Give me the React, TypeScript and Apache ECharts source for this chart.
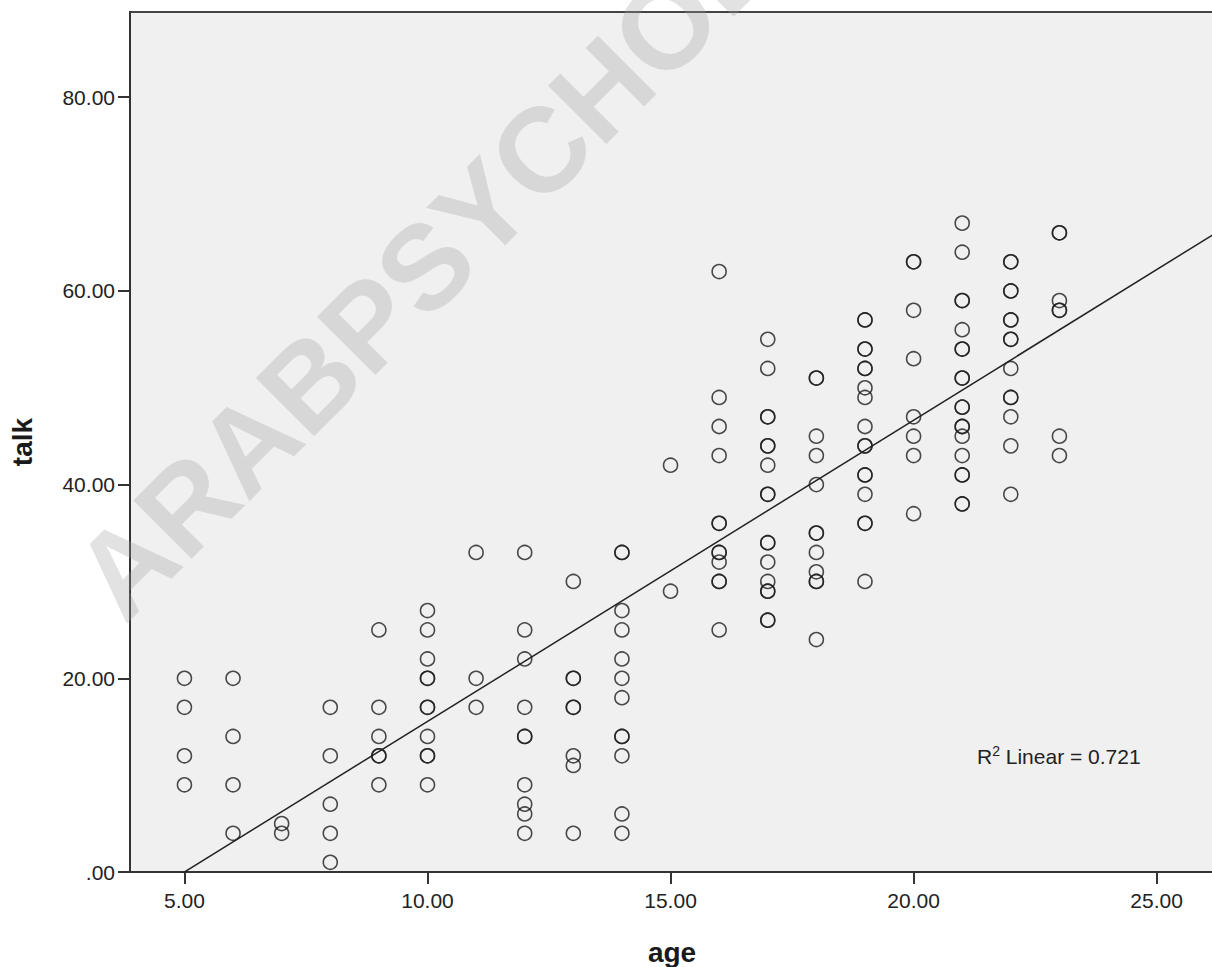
import React, { useEffect, useRef } from "react";
import * as echarts from "echarts";

// ---- data ----
const AGES = [5, 6, 7, 8, 9, 10, 11, 12, 13, 14, 15, 16, 17, 18, 19, 20, 21, 22, 23];
const TALK_BY_AGE: number[][] = [
  [20, 17, 12, 9],
  [20, 14, 9, 4],
  [5, 4],
  [17, 12, 7, 4, 1],
  [25, 17, 14, 12, 12, 9],
  [27, 25, 22, 20, 20, 17, 17, 14, 12, 12, 9],
  [33, 20, 17],
  [33, 25, 22, 17, 14, 14, 9, 7, 6, 4],
  [30, 20, 20, 17, 17, 12, 11, 4],
  [33, 33, 27, 25, 22, 20, 18, 14, 14, 12, 6, 4],
  [42, 29],
  [62, 49, 46, 43, 36, 36, 33, 33, 32, 30, 30, 25],
  [55, 52, 47, 47, 44, 44, 42, 39, 39, 34, 34, 32, 30, 29, 29, 26, 26],
  [51, 51, 45, 43, 40, 35, 35, 33, 31, 30, 30, 24],
  [57, 57, 54, 54, 52, 52, 50, 49, 46, 44, 44, 41, 41, 39, 36, 36, 30],
  [63, 63, 58, 53, 47, 45, 43, 37],
  [67, 64, 59, 59, 56, 54, 54, 51, 51, 48, 48, 46, 46, 45, 43, 41, 41, 38, 38],
  [63, 63, 60, 60, 57, 57, 55, 55, 52, 49, 49, 47, 44, 39],
  [66, 66, 59, 58, 58, 45, 43],
];
const X_TICKS = [5, 10, 15, 20, 25];
const Y_TICKS = [0, 20, 40, 60, 80];
const X_MIN = 3.88;
const X_MAX = 26.18;
const Y_MIN = 0;
const Y_MAX = 88.8;
const X_NAME = "age";
const Y_NAME = "talk";
// linear fit as drawn in the reference (talk = intercept + slope * age)
const FIT_INTERCEPT = -15.55;
const FIT_SLOPE = 3.11;
const R2_VALUE = "0.721";
const WATERMARK = "ARABPSYCHOLOGY";

const FONT = '"Liberation Sans", Arial, Helvetica, sans-serif';

function buildPoints(): number[][] {
  const pts: number[][] = [];
  AGES.forEach((a, i) => TALK_BY_AGE[i].forEach((t) => pts.push([a, t])));
  return pts;
}

export default function App() {
  const ref = useRef<HTMLDivElement>(null);
  useEffect(() => {
    if (!ref.current) return;
    const chart = echarts.init(ref.current, null, { renderer: "svg" });
    const pts = buildPoints();
    const fitData = [
      [X_MIN, FIT_INTERCEPT + FIT_SLOPE * X_MIN],
      [X_MAX, FIT_INTERCEPT + FIT_SLOPE * X_MAX],
    ];
    const fmt = (v: number) => (v === 0 ? ".00" : v.toFixed(2));
    chart.setOption({
      animation: false,
      backgroundColor: "#ffffff",
      grid: {
        left: 130,
        right: -2,
        top: 12,
        bottom: 95,
        containLabel: false,
        outerBoundsMode: "none",
        show: true,
        backgroundColor: "#f0f0f0",
        borderColor: "#444",
        borderWidth: 2,
      },
      xAxis: {
        type: "value",
        min: X_MIN,
        max: X_MAX,
        name: X_NAME,
        nameLocation: "middle",
        nameGap: 66,
        nameTextStyle: { fontFamily: FONT, fontSize: 28, fontWeight: "bold", color: "#1a1a1a" },
        axisLine: { show: true, onZero: false, lineStyle: { color: "#333", width: 2 } },
        axisTick: { show: true, inside: false, length: 12, customValues: X_TICKS, lineStyle: { color: "#333", width: 2 } },
        axisLabel: { customValues: X_TICKS, formatter: fmt, margin: 18, fontFamily: FONT, fontSize: 21, color: "#222" },
        splitLine: { show: false },
      },
      yAxis: {
        type: "value",
        min: Y_MIN,
        max: Y_MAX,
        name: Y_NAME,
        nameLocation: "middle",
        nameGap: 94,
        nameTextStyle: { fontFamily: FONT, fontSize: 28, fontWeight: "bold", color: "#1a1a1a" },
        axisLine: { show: true, onZero: false, lineStyle: { color: "#333", width: 2 } },
        axisTick: { show: true, inside: false, length: 12, customValues: Y_TICKS, lineStyle: { color: "#333", width: 2 } },
        axisLabel: { customValues: Y_TICKS, formatter: fmt, margin: 15, fontFamily: FONT, fontSize: 21, color: "#222" },
        splitLine: { show: false },
      },
      graphic: [
        {
          type: "text",
          x: 95,
          y: 596,
          rotation: Math.PI / 4,
          z: 1,
          silent: true,
          style: {
            text: WATERMARK,
            fontFamily: FONT,
            fontSize: 120,
            fontWeight: "bold",
            fill: "rgba(160,160,160,0.3)",
            textAlign: "left",
            textVerticalAlign: "middle",
          },
        },
        {
          type: "text",
          x: 977,
          y: 756,
          z: 10,
          style: {
            text: "{a|R}{b|2}{a| Linear = " + R2_VALUE + "}",
            textAlign: "left",
            textVerticalAlign: "middle",
            rich: {
              a: { fontFamily: FONT, fontSize: 21, lineHeight: 24, fill: "#222" },
              b: { fontFamily: FONT, fontSize: 14, lineHeight: 14, verticalAlign: "top", fill: "#222" },
            },
          },
        },
      ],
      series: [
        {
          type: "scatter",
          data: pts,
          symbol: "circle",
          symbolSize: 14,
          z: 3,
          itemStyle: { color: "rgba(0,0,0,0)", borderColor: "#1e1e1e", borderWidth: 1.6 },
        },
        {
          type: "line",
          data: fitData,
          symbol: "none",
          clip: true,
          z: 2,
          lineStyle: { color: "#222", width: 1.5 },
        },
      ],
    });
    return () => chart.dispose();
  }, []);
  return (
    <div
      ref={ref}
      style={{ position: "fixed", left: 0, top: 0, width: 1212, height: 967, overflow: "hidden" }}
    />
  );
}
